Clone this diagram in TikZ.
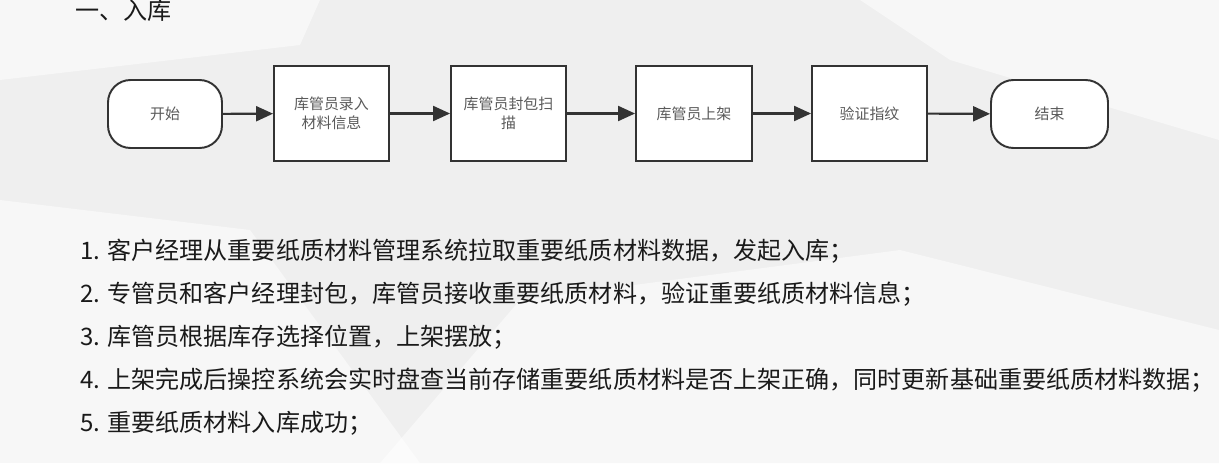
\documentclass[tikz,border=0pt]{standalone}
\usepackage{fontspec}
\setmainfont{Noto Sans CJK SC}
\usetikzlibrary{arrows.meta}
\definecolor{bg}{HTML}{EFEFEF}
\definecolor{bgl}{HTML}{F7F7F7}
\definecolor{ln}{HTML}{333333}
\definecolor{lbl}{HTML}{5A5A5A}
\definecolor{txt}{HTML}{1A1A1A}
\begin{document}
\begin{tikzpicture}[x=0.02cm, y=-0.02cm,
  box/.style={draw=ln, line width=1.1pt, fill=white, minimum width=2.3cm, minimum height=1.9cm,
    align=center, font=\fontsize{8.5}{11}\selectfont, text=lbl, inner sep=0pt},
  term/.style={box, rounded corners=0.45cm, minimum height=1.36cm},
  flow/.style={draw=ln, line width=1.2pt, -{Triangle[length=0.34cm, width=0.3cm]}},
  item/.style={anchor=west, font=\fontsize{13.7}{15}\selectfont, text=txt, inner sep=0pt}]
% background
\useasboundingbox (0,0) rectangle (1219,463);
\fill[bg] (0,0) rectangle (1219,463);
\fill[bgl] (0,0) -- (320,0) -- (300,45) -- (0,80) -- cycle;
\fill[bgl] (860,0) -- (1219,0) -- (1219,140) -- (950,60) -- cycle;
\fill[bgl] (380,463) -- (520,300) -- (900,250) -- (1219,330) -- (1219,463) -- cycle;
\fill[white, opacity=0.5] (0,200) -- (250,230) -- (420,463) -- (0,463) -- cycle;
% title
\node[item] (title) at (75,10) {一、入库};
% flow
\node[term, minimum width=2.28cm] (start) at (165,114) {开始};
\node[box] (input) at (331.5,113.5) {库管员录入\\材料信息};
\node[box] (seal) at (508.5,113.5) {库管员封包扫\\描};
\node[box, minimum width=2.32cm] (shelf) at (694,113.5) {库管员上架};
\node[box] (verify) at (869.5,113.5) {验证指纹};
\node[term, minimum width=2.34cm] (stop) at (1049.5,114) {结束};
\foreach \a/\b in {start/input, input/seal, seal/shelf, shelf/verify, verify/stop}
  \draw[flow] (\a) -- (\b);
% steps
\node[item] (s1) at (80,251) {1. 客户经理从重要纸质材料管理系统拉取重要纸质材料数据，发起入库；};
\node[item] (s2) at (80,294) {2. 专管员和客户经理封包，库管员接收重要纸质材料，验证重要纸质材料信息；};
\node[item] (s3) at (80,337) {3. 库管员根据库存选择位置，上架摆放；};
\node[item] (s4) at (80,380) {4. 上架完成后操控系统会实时盘查当前存储重要纸质材料是否上架正确，同时更新基础重要纸质材料数据；};
\node[item] (s5) at (80,423) {5. 重要纸质材料入库成功；};
\end{tikzpicture}
\end{document}
